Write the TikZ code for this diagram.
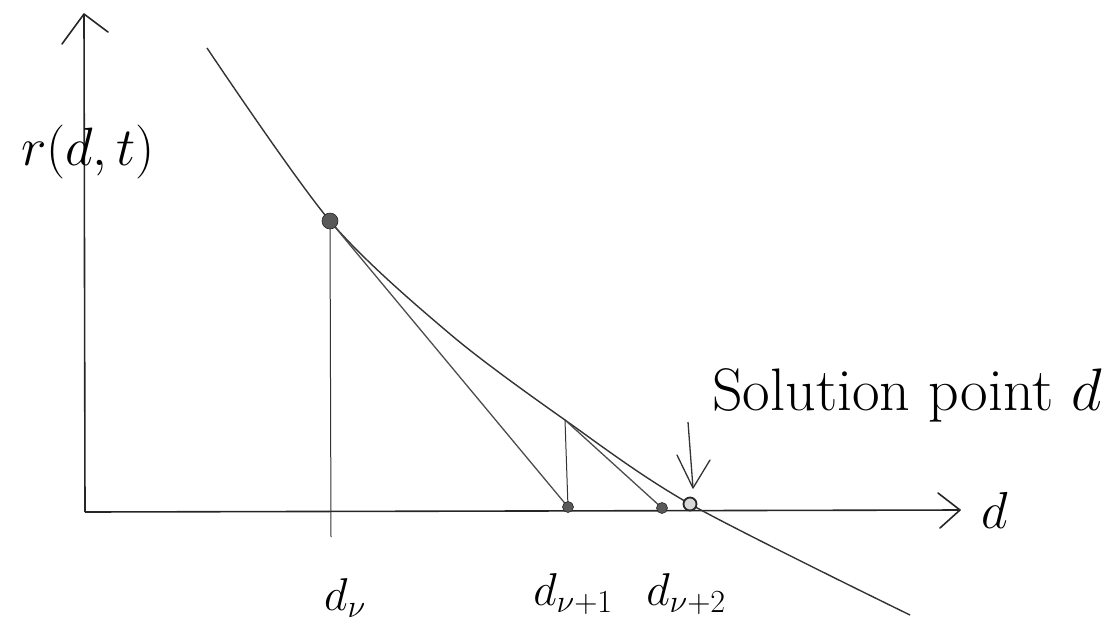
\RequirePackage{fix-cm}
\documentclass[tikz,border=0pt]{standalone}
\usetikzlibrary{calc}
\begin{document}
\begin{tikzpicture}[x=1pt,y=-1pt,
  axis/.style={line width=1.6pt,black!85},
  curveline/.style={line width=1.4pt,black!80},
  tangent/.style={line width=1.3pt,black!70},
  guide/.style={line width=1pt,black!80},
  dotfill/.style={circle,fill=black!65,draw=black!85,line width=0.6pt,inner sep=0pt,minimum size=#1},
  opendot/.style={circle,draw=black!85,fill=black!15,line width=1.8pt,inner sep=0pt,minimum size=13pt},
  lbl/.style={inner sep=0pt,font=\fontsize{46}{50}\selectfont}
]
\useasboundingbox (0,0) rectangle (1112,625);
% axes
\coordinate (O) at (85,512);
\coordinate (Ytop) at (84,14);
\coordinate (Yw1) at (62,44);
\coordinate (Yw2) at (108,32);
\coordinate (Xend) at (960,510);
\coordinate (Xw1) at (938,493);
\coordinate (Xw2) at (940,528);
\draw[axis] (O) -- (Ytop);
\draw[axis,line cap=round,line join=round] (Yw1) -- (Ytop) -- (Yw2);
\draw[axis] (O) -- (Xend);
\draw[axis,line cap=round,line join=round] (Xw1) -- (Xend) -- (Xw2);
% key points
\coordinate (Pv) at (330,221);
\coordinate (Pv1top) at (565,420);
\coordinate (Dv1) at (568,507);
\coordinate (Dv2) at (662,508);
\coordinate (Sol) at (690,504);
\coordinate (Dvfoot) at (331,537);
% curve
\draw[curveline] plot[smooth,tension=0.5] coordinates {(207,48) (330,221) (450,334) (565,420) (690,504) (910,615)};
% tangents
\draw[tangent] (Pv) -- (Dv1);
\draw[tangent] (Pv1top) -- (Dv2);
% vertical guides
\draw[guide] (Pv) -- (Dvfoot);
\draw[guide] (Pv1top) -- (Dv1);
% dots
\node[dotfill=16pt] (nPv) at (Pv) {};
\node[dotfill=11pt] (nDv1) at (Dv1) {};
\node[dotfill=11pt] (nDv2) at (Dv2) {};
\node[opendot] (nSol) at (Sol) {};
% solution arrow
\coordinate (Atop) at (688,422);
\coordinate (Atip) at (693,488);
\coordinate (Aw1) at (677,455);
\coordinate (Aw2) at (710,460);
\draw[guide,line width=1.3pt] (Atop) -- (Atip);
\draw[guide,line width=1.3pt,line cap=round,line join=round] (Aw1) -- (Atip) -- (Aw2);
% labels
\node[inner sep=0pt,font=\fontsize{54}{58}\selectfont] (ylab) at (88,152) {$r(d,t)$};
\node[inner sep=0pt,font=\fontsize{52}{56}\selectfont] (xlab) at (995,510) {$d$};
\node[lbl] (lv) at (345,598) {$d_{\nu}$};
\node[lbl] (lv1) at (573,594) {$d_{\nu+1}$};
\node[lbl] (lv2) at (686,594) {$d_{\nu+2}$};
\node[inner sep=0pt,anchor=base west,font=\fontsize{60}{66}\selectfont] (sol) at (712,410) {Solution point $d$};
\end{tikzpicture}
\end{document}
